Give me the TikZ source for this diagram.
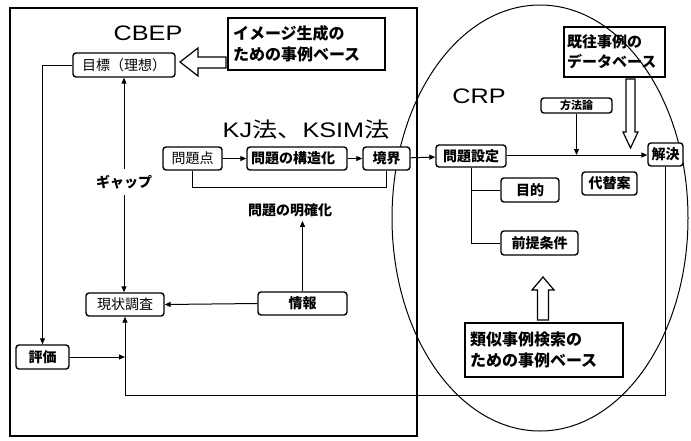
\documentclass[tikz,border=0pt]{standalone}
\usepackage{fontspec}
\setmainfont{Noto Sans CJK JP}
\newfontfamily\lat{Liberation Sans}
\usetikzlibrary{arrows.meta}
\begin{document}
\begin{tikzpicture}[x=1pt,y=-1pt,
 box/.style={draw, rounded corners=3pt, line width=1.4pt, inner sep=0pt, font=\fontsize{14}{15}\selectfont},
 bbox/.style={box, font=\fontsize{14}{15}\selectfont\bfseries},
 dbbox/.style={draw, line width=1.4pt, inner sep=0pt, align=left, font=\fontsize{16}{21}\selectfont\bfseries},
 big/.style={font=\fontsize{21}{22}\selectfont, xscale=1.2, inner sep=0pt},
 arr/.style={-{Triangle[length=6pt,width=5pt]}, line width=1pt},
 ln/.style={line width=1pt},
 hollow/.style={draw, line width=1.2pt, fill=white, line join=miter}
]
\useasboundingbox (0,0) rectangle (691,440);
\fill[white] (0,0) rectangle (691,440);

% frames
\draw[line width=2pt] (10,8) rectangle (417,436);
\draw[line width=1pt] (540,218) ellipse [x radius=148pt, y radius=213pt];

% titles
\node[big] (cbep) at (148,33) {\lat CBEP};
\node[big] (kj) at (306,130) {{\lat KJ}法、{\lat KSIM}法};
\node[big] (crp) at (479,96) {\lat CRP};

% case base boxes
\node[dbbox, fill=white, minimum width=157, minimum height=52, text width=147] (imgdb) at (306.5,44) {イメージ生成の\\ための事例ベース};
\node[dbbox, minimum width=101, minimum height=50, text width=95, font=\fontsize{15}{20}\selectfont\bfseries] (kiodb) at (614.5,52) {既往事例の\\データベース};
\node[dbbox, fill=white, minimum width=158, minimum height=54, text width=148] (ruiji) at (544,350) {類似事例検索の\\ための事例ベース};

% boxes
\node[box, fill=white, minimum width=102, minimum height=24] (goal) at (124,65) {目標（理想）};
\node[bbox, fill=white, minimum width=53, minimum height=24] (eval) at (42.5,357) {評価};
\node[box, fill=white, minimum width=78, minimum height=23] (genjo) at (125,304.5) {現状調査};
\node[bbox, fill=white, minimum width=89, minimum height=23] (joho) at (302.5,303.5) {情報};
\node[box, fill=white, minimum width=59, minimum height=23] (mten) at (192.5,158.5) {問題点};
\node[bbox, fill=white, minimum width=100, minimum height=23, text width=92, align=left] (kozo) at (297,158.5) {問題の構造化};
\node[bbox, fill=white, minimum width=47, minimum height=23] (kyokai) at (386.5,158.5) {境界};
\node[bbox, fill=white, minimum width=70, minimum height=22] (settei) at (471,156) {問題設定};
\node[bbox, fill=white, minimum width=35, minimum height=23] (kaiketsu) at (665.5,154.5) {解決};
\node[bbox, fill=white, minimum width=71, minimum height=15, font=\fontsize{11}{12}\selectfont\bfseries] (hoho) at (576.5,105.5) {方法論};
\node[bbox, fill=white, minimum width=58, minimum height=24] (mokuteki) at (530,190) {目的};
\node[bbox, fill=white, minimum width=77, minimum height=24] (zentei) at (539.5,243) {前提条件};
\node[bbox, fill=white, minimum width=55, minimum height=23] (daitai) at (609.5,183.5) {代替案};
\node[font=\fontsize{14}{15}\selectfont\bfseries, inner sep=1pt] (mei) at (290,210) {問題の明確化};

% hollow arrows
\draw[hollow] (180,62) -- (198,48) -- (198,57) -- (226,57) -- (226,68) -- (198,68) -- (198,76) -- cycle;
\draw[hollow] (626,79) -- (635,79) -- (635,132) -- (638,132) -- (630.5,148) -- (623,132) -- (626,132) -- cycle;
\draw[hollow] (537.5,320) -- (548.5,320) -- (548.5,290) -- (554,290) -- (543,277) -- (532,290) -- (537.5,290) -- cycle;

% connectors
\coordinate (bl) at (125,395);
\draw[arr, {Triangle[length=6pt,width=5pt]}-{Triangle[length=6pt,width=5pt]}] (goal.south) -- node[fill=white, font=\fontsize{14}{15}\selectfont\bfseries, inner ysep=6pt, pos=0.485] (gap) {ギャップ} (goal.south |- genjo.north);
\draw[arr, line width=0.8pt] (goal.west) -| (eval.north);
\draw[arr] (eval.east) -- (eval.east -| bl);
\draw[arr, line width=0.8pt] (kaiketsu.south) |- (bl) -- (genjo.south);
\draw[arr] (joho.west) -- (genjo.east);
\draw[arr, shorten >=3pt] (joho.north) -- (joho.north |- mei.south);
\draw[arr] (mten) -- (kozo);
\draw[arr] (kozo) -- (kyokai);
\draw[arr] (kyokai) -- (settei);
\draw[ln] (mten.south) -- ++(0,17) -| (kyokai.south);
\draw[arr] (settei.east |- 0,155) -- (kaiketsu.west |- 0,155);
\draw[arr] (hoho.south) -- (hoho.south |- 0,155);
\draw[ln] (settei.south) -- (settei.south |- zentei.west) -- (zentei.west);
\draw[ln] (settei.south |- mokuteki.west) -- (mokuteki.west);
\end{tikzpicture}
\end{document}
